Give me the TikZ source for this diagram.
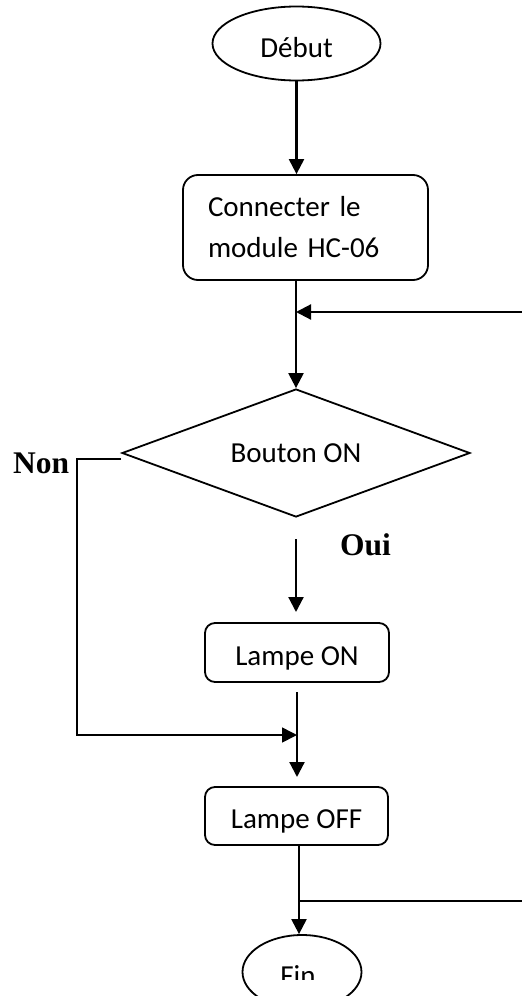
\documentclass[tikz,border=0pt]{standalone}
\usepackage{fontspec}
\setmainfont{Carlito}
\newfontfamily\tnr{Liberation Serif}
\usetikzlibrary{shapes.geometric,arrows.meta}
\begin{document}
\begin{tikzpicture}[x=1pt,y=-1pt,
  shapeline/.style={draw=black,line width=1.8pt},
  term/.style={shapeline,ellipse,inner sep=0pt,font=\fontsize{29}{34}\selectfont},
  stepbox/.style={shapeline,rectangle,rounded corners=10pt,inner sep=0pt,font=\fontsize{29}{34}\selectfont},
  decis/.style={shapeline,diamond,shape aspect=2.7,inner sep=0pt,font=\fontsize{29}{34}\selectfont},
  conn/.style={line width=2.2pt,-{Triangle[length=15pt,width=15pt]}},
  plain/.style={line width=1.8pt},
  lbl/.style={font=\tnr\bfseries\fontsize{31.5}{36}\selectfont,inner sep=0pt,anchor=base west}
]
\useasboundingbox (0,0) rectangle (522,996);
\clip (0,0) rectangle (522,996);

% shapes
\node[term,minimum width=168pt,minimum height=74pt,text height=27pt,text depth=0pt] (start) at (296.5,43.5) {Début};
\node[stepbox,rounded corners=15pt,minimum width=245pt,minimum height=105pt,text width=195pt,inner xsep=25pt,align=left,font=\fontsize{29}{41}\selectfont] (box1) at (305.5,227.5) {Connecter le\\module HC-06};
\node[decis,minimum width=348pt,minimum height=128pt] (nd) at (296,453) {Bouton ON};
\node[stepbox,minimum width=184pt,minimum height=59pt,text height=25pt,text depth=0pt] (lon) at (297,652.5) {Lampe ON};
\node[stepbox,minimum width=183pt,minimum height=58pt,text height=24pt,text depth=0pt] (loff) at (296.5,816) {Lampe OFF};
\node[term,minimum width=119pt,minimum height=74pt] (fin) at (302,972) {};
\begin{scope}
  \clip (0,0) rectangle (522,979);
  \node[inner sep=0pt,anchor=base,font=\fontsize{29}{34}\selectfont] (fintxt) at (298,985.5) {Fin};
\end{scope}

% labels
\node[lbl] (non) at (13,473) {Non};
\node[lbl] (oui) at (340,555) {Oui};

% coordinates
\coordinate (fbR) at (522,312);
\coordinate (ouiS) at (296,539);
\coordinate (ouiE) at (296,612);
\coordinate (onS) at (297,692);
\coordinate (offN) at (297,777);
\coordinate (nonA) at (77,459);
\coordinate (nonB) at (77,735);
\coordinate (nonE) at (297,735);
\coordinate (loopJ) at (299,901);
\coordinate (loopR) at (522,901);

% connectors
\draw[conn] (start.south) -- (start.south |- box1.north);
\draw[conn] (nd.north |- box1.south) -- (nd.north);
\draw[conn] (fbR) -- (fbR -| nd.north);
\draw[conn] (ouiS) -- (ouiE);
\draw[conn] (onS) -- (offN);
\draw[line width=1.6pt,-{Triangle[length=15pt,width=15pt]}] (nd.west |- nonA) -- (nonA) -- (nonB) -- (nonE);
\draw[conn] (loopJ |- loff.south) -- (loopJ |- fin.north);
\draw[plain] (loopJ) -- (loopR);
\end{tikzpicture}
\end{document}
